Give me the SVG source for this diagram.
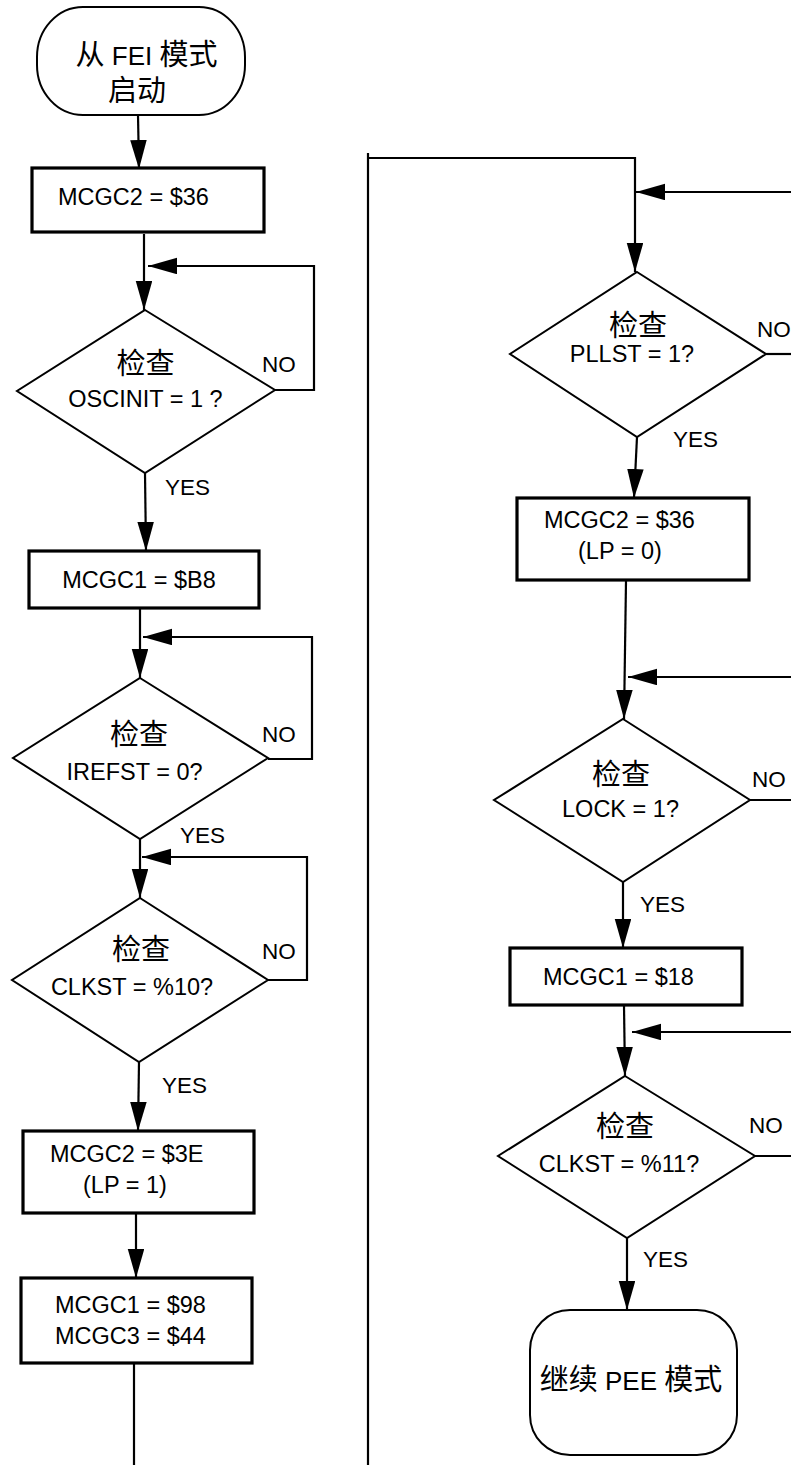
<svg xmlns="http://www.w3.org/2000/svg" width="791" height="1465" viewBox="0 0 791 1465">
<style>
.t{font-family:"Liberation Sans","Noto Sans CJK SC",sans-serif;font-size:23.5px;fill:#000}
.mx{font-size:26px}
.c{font-family:"Noto Sans CJK SC","Liberation Sans",sans-serif;font-size:29px}
.l{font-size:22.5px}
.m{text-anchor:middle}
.box{fill:#fff;stroke:#000;stroke-width:3.2}
.dia{fill:#fff;stroke:#000;stroke-width:2}
.term{fill:#fff;stroke:#000;stroke-width:2}
.cn{fill:none;stroke:#000;stroke-width:2.2}
</style>
<defs>
<marker id="ah" markerWidth="30" markerHeight="17" refX="29" refY="8.25" orient="auto" markerUnits="userSpaceOnUse"><path d="M0,0 L29,8.25 L0,16.5 z" fill="#000"/></marker>
</defs>
<rect width="791" height="1465" fill="#fff"/>
<g id="connectors">
<path class="cn" d="M138,115 L139,169" marker-end="url(#ah)"/>
<path class="cn" d="M144,234 L144,310" marker-end="url(#ah)"/>
<path class="cn" d="M275,390 L314,390 L314,266 L148,266" marker-end="url(#ah)"/>
<path class="cn" d="M145,473 L146,551" marker-end="url(#ah)"/>
<path class="cn" d="M140,609 L140,678" marker-end="url(#ah)"/>
<path class="cn" d="M268,759 L312,759 L312,637 L143,637" marker-end="url(#ah)"/>
<path class="cn" d="M140,839 L140,898" marker-end="url(#ah)"/>
<path class="cn" d="M268,980 L307,980 L307,857 L142,857" marker-end="url(#ah)"/>
<path class="cn" d="M139,1062 L138,1131" marker-end="url(#ah)"/>
<path class="cn" d="M136,1214 L136,1278" marker-end="url(#ah)"/>
<path class="cn" d="M134,1364 L134,1465"/>
<path class="cn" d="M368,1465 L368,153 M368,158 L635,158 L635,272" marker-end="url(#ah)"/>
<path class="cn" d="M791,192 L636,192" marker-end="url(#ah)"/>
<path class="cn" d="M766,354 L791,354"/>
<path class="cn" d="M637,437 L634,498" marker-end="url(#ah)"/>
<path class="cn" d="M626,581 L624,719" marker-end="url(#ah)"/>
<path class="cn" d="M791,677 L628,677" marker-end="url(#ah)"/>
<path class="cn" d="M750,800 L791,800"/>
<path class="cn" d="M623,882 L623,948" marker-end="url(#ah)"/>
<path class="cn" d="M624,1006 L625,1076" marker-end="url(#ah)"/>
<path class="cn" d="M791,1032 L632,1032" marker-end="url(#ah)"/>
<path class="cn" d="M755,1156 L791,1156"/>
<path class="cn" d="M627,1238 L627,1310" marker-end="url(#ah)"/>
</g>
<g id="labels">
<text class="t l" x="262" y="372">NO</text>
<text class="t l" x="165" y="495">YES</text>
<text class="t l" x="262" y="742">NO</text>
<text class="t l" x="180" y="843">YES</text>
<text class="t l" x="262" y="959">NO</text>
<text class="t l" x="162" y="1093">YES</text>
<text class="t l" x="757" y="337">NO</text>
<text class="t l" x="673" y="447">YES</text>
<text class="t l" x="752" y="787">NO</text>
<text class="t l" x="640" y="912">YES</text>
<text class="t l" x="749" y="1133">NO</text>
<text class="t l" x="643" y="1267">YES</text>
</g>
<g id="start">
<rect class="term" x="37" y="7" width="208" height="108" rx="46" ry="50"/>
<text class="t mx m" x="146.5" y="65"><tspan class="c">从</tspan> FEI <tspan class="c">模式</tspan></text>
<text class="t c m" x="137" y="101">启动</text>
</g>
<g id="box1">
<rect class="box" x="32" y="168" width="232" height="64"/>
<text class="t" x="58" y="205">MCGC2 = $36</text>
</g>
<g id="check1">
<polygon class="dia" points="145,310 275,390 145,473 17,391"/>
<text class="t c m" x="145.5" y="374">检查</text>
<text class="t m" x="145.5" y="407">OSCINIT = 1 ?</text>
</g>
<g id="box2">
<rect class="box" x="29" y="551" width="230" height="57"/>
<text class="t m" x="139" y="588">MCGC1 = $B8</text>
</g>
<g id="check2">
<polygon class="dia" points="140,678 268,758 140,839 13,758"/>
<text class="t c m" x="139" y="745">检查</text>
<text class="t m" x="134.5" y="780">IREFST = 0?</text>
</g>
<g id="check3">
<polygon class="dia" points="140,898 268,980 139,1062 12,980"/>
<text class="t c m" x="141" y="960">检查</text>
<text class="t m" x="132" y="995">CLKST = %10?</text>
</g>
<g id="box3">
<rect class="box" x="23" y="1131" width="231" height="82"/>
<text class="t" x="50" y="1162">MCGC2 = $3E</text>
<text class="t" x="83" y="1193">(LP = 1)</text>
</g>
<g id="box4">
<rect class="box" x="21" y="1278" width="231" height="85"/>
<text class="t" x="55" y="1313">MCGC1 = $98</text>
<text class="t" x="55" y="1344">MCGC3 = $44</text>
</g>
<g id="check4">
<polygon class="dia" points="637,272 766,354 637,437 510,354"/>
<text class="t c m" x="638" y="336">检查</text>
<text class="t m" x="632" y="362">PLLST = 1?</text>
</g>
<g id="box5">
<rect class="box" x="517" y="498" width="232" height="82"/>
<text class="t" x="544" y="528">MCGC2 = $36</text>
<text class="t" x="578" y="559">(LP = 0)</text>
</g>
<g id="check5">
<polygon class="dia" points="623,719 750,800 623,882 494,800"/>
<text class="t c m" x="621" y="785">检查</text>
<text class="t m" x="620.5" y="817">LOCK = 1?</text>
</g>
<g id="box6">
<rect class="box" x="510" y="948" width="232" height="57"/>
<text class="t" x="543" y="985">MCGC1 = $18</text>
</g>
<g id="check6">
<polygon class="dia" points="625,1076 755,1156 627,1238 498,1156"/>
<text class="t c m" x="625" y="1137">检查</text>
<text class="t m" x="619" y="1172">CLKST = %11?</text>
</g>
<g id="end">
<rect class="term" x="530" y="1310" width="207" height="145" rx="40" ry="40"/>
<text class="t mx m" x="631" y="1390"><tspan class="c">继续</tspan> PEE <tspan class="c">模式</tspan></text>
</g>
</svg>
